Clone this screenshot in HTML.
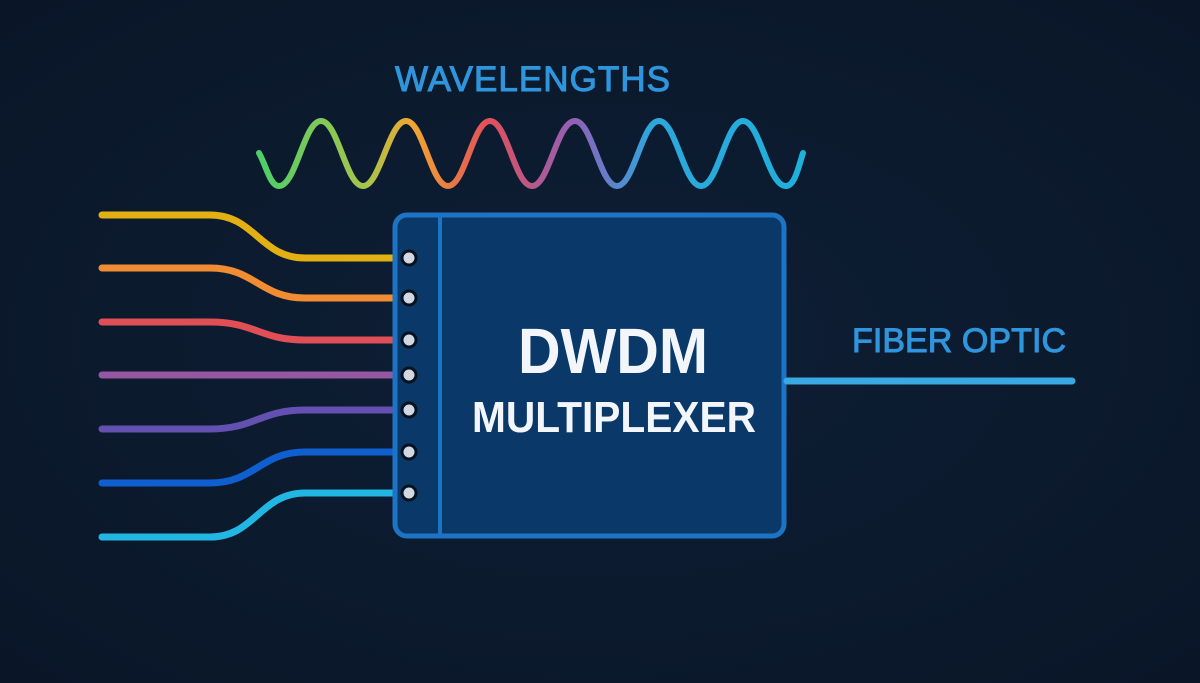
<!DOCTYPE html>
<html><head><meta charset="utf-8"><style>
html,body{margin:0;padding:0;background:#0b1829;}
svg{display:block;}
text{font-family:"Liberation Sans",sans-serif;}
</style></head><body>
<svg width="1200" height="683" viewBox="0 0 1200 683" xmlns="http://www.w3.org/2000/svg">
<defs>
<linearGradient id="wg" x1="259" y1="0" x2="803" y2="0" gradientUnits="userSpaceOnUse">
<stop offset="0" stop-color="#4ccf6a"/>
<stop offset="0.2" stop-color="#a9c44a"/>
<stop offset="0.28" stop-color="#f0a830"/>
<stop offset="0.42" stop-color="#e2505a"/>
<stop offset="0.58" stop-color="#9060b8"/>
<stop offset="0.72" stop-color="#2ea6dc"/>
<stop offset="1" stop-color="#1fb0dc"/>
</linearGradient>
<radialGradient id="bg" cx="0.5" cy="0.5" r="0.7">
<stop offset="0" stop-color="#0e1f35"/><stop offset="1" stop-color="#0a1628"/>
</radialGradient>
</defs>
<rect width="1200" height="683" fill="url(#bg)"/>
<text x="395" y="91" font-size="35" fill="#2f95dc" stroke="#2f95dc" stroke-width="1" textLength="275" lengthAdjust="spacing">WAVELENGTHS</text>
<path d="M259,153 C266,165 270,186 279,186 C296,186 304,121 321,121 C338,121 346,186 363,186 C380,186 389,121 406,121 C423,121 431,186 448,186 C465,186 473,121 490,121 C507,121 515,186 532,186 C549,186 557,121 575,121 C592,121 600,186 617,186 C634,186 642,121 659,121 C676,121 684,186 701,186 C718,186 726,121 743,121 C760,121 768,186 786,186 C795,186 799,165 803,153" fill="none" stroke="url(#wg)" stroke-width="6" stroke-linecap="round"/>
<g fill="none" stroke-width="7" stroke-linecap="round">
<path d="M102,215 H210 C255,215 260,258 305,258 H408" stroke="#e2b012"/>
<path d="M102,268 H210 C255,268 260,298 305,298 H408" stroke="#f28c32"/>
<path d="M102,322 H210 C255,322 260,340 305,340 H408" stroke="#e04e56"/>
<path d="M102,375 H408" stroke="#9557a2"/>
<path d="M102,429 H210 C255,429 260,410 305,410 H408" stroke="#6450b0"/>
<path d="M102,483 H210 C255,483 260,452 305,452 H408" stroke="#0f5fd0"/>
<path d="M102,537 H210 C255,537 260,493 305,493 H408" stroke="#22b6e2"/>
</g>
<rect x="395" y="215" width="389" height="321" rx="12" fill="#0a3868" stroke="#1d74c4" stroke-width="5"/>
<line x1="440" y1="216" x2="440" y2="535" stroke="#1d74c4" stroke-width="4"/>
<g fill="#d0d8e2" stroke="#08121f" stroke-width="3">
<circle cx="409" cy="258" r="7"/><circle cx="409" cy="298" r="7"/><circle cx="409" cy="340" r="7"/>
<circle cx="409" cy="375" r="7"/><circle cx="409" cy="410" r="7"/><circle cx="409" cy="452" r="7"/>
<circle cx="409" cy="493" r="7"/>
</g>
<text x="518" y="373" font-size="64" font-weight="bold" fill="#f2f6fa" textLength="190" lengthAdjust="spacingAndGlyphs">DWDM</text>
<text x="472" y="432" font-size="44" font-weight="bold" fill="#f2f6fa" textLength="284" lengthAdjust="spacingAndGlyphs">MULTIPLEXER</text>
<line x1="787" y1="381" x2="1072" y2="381" stroke="#3aa8e2" stroke-width="7" stroke-linecap="round"/>
<text x="852" y="352" font-size="34" fill="#2f95dc" stroke="#2f95dc" stroke-width="1" textLength="214" lengthAdjust="spacing">FIBER OPTIC</text>
</svg>
</body></html>
